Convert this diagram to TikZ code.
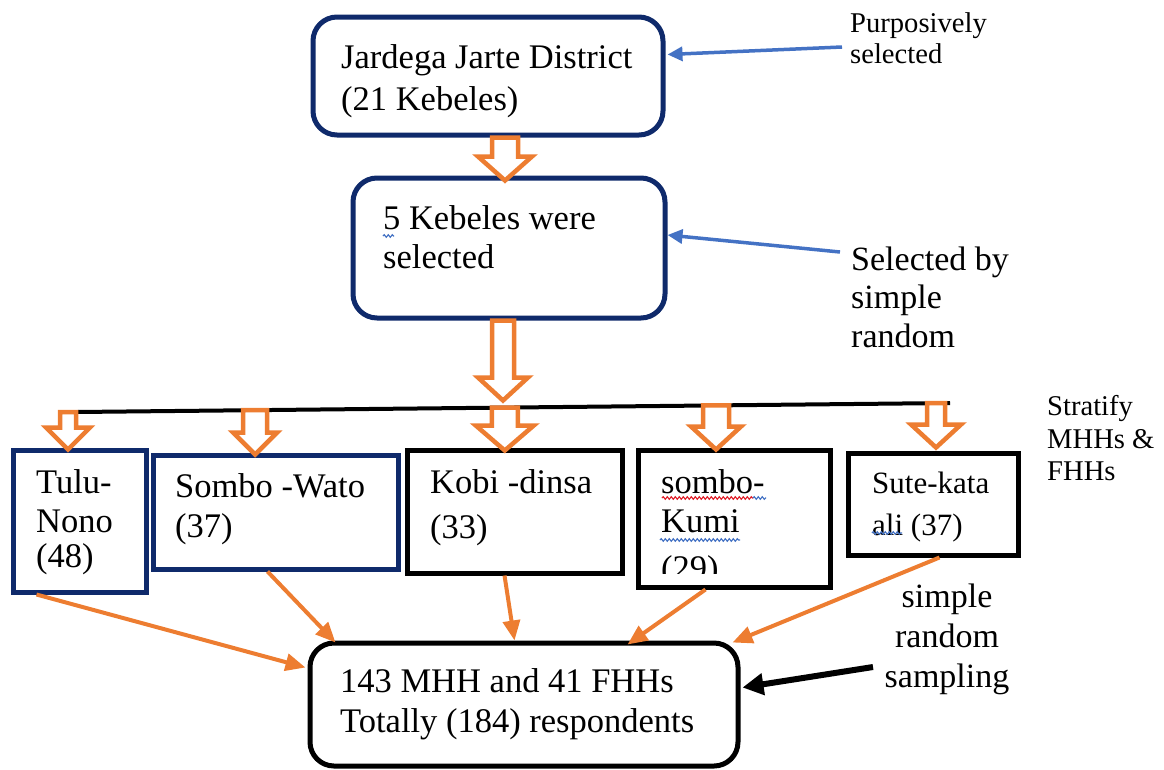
\documentclass[tikz,border=0pt]{standalone}
\usepackage{fontspec}
\setmainfont{Liberation Serif}
\usetikzlibrary{arrows.meta,calc,decorations.pathmorphing}
\definecolor{navy}{HTML}{0F2A6B}
\definecolor{worange}{HTML}{ED7D31}
\definecolor{wblue}{HTML}{4472C4}
\definecolor{wred}{HTML}{E0202A}
\newcommand{\holarrow}[5]{%
  \draw[harrow] let \p1=(#1), \p2=(#2) in
    (\x1-#3,\y1) -- (\x1+#3,\y1) -- (\x1+#3,\y2+#5) -- (\x1+#4,\y2+#5) --
    (\x1,\y2) -- (\x1-#4,\y2+#5) -- (\x1-#3,\y2+#5) -- cycle;}
\tikzset{
  rbox/.style={draw=#1, line width=5pt, rounded corners=24pt, fill=white, inner sep=0pt},
  sbox/.style={draw=#1, line width=5pt, fill=white, inner sep=0pt},
  harrow/.style={draw=worange, line width=4.5pt, fill=white, line join=miter},
  oarr/.style={worange, line width=4pt, -{Triangle[length=20pt,width=17pt]}},
  barr/.style={wblue, line width=3.5pt, -{Triangle[length=15pt,width=14pt]}},
  karr/.style={black, line width=6pt, -{Triangle[length=21pt,width=21pt]}},
  txt/.style={font=\fontsize{34.5}{40}\selectfont, inner sep=0pt, anchor=base west},
  txtm/.style={font=\fontsize{31}{36}\selectfont, inner sep=0pt, anchor=base west},
  txts/.style={font=\fontsize{28.6}{33}\selectfont, inner sep=0pt, anchor=base west},
  txtc/.style={font=\fontsize{34}{40}\selectfont, inner sep=0pt, anchor=base},
  squig/.style={line width=1.1pt, decorate, decoration={snake, amplitude=1.3pt, segment length=4pt}}
}
\begin{document}
\begin{tikzpicture}[x=1pt,y=-1pt]
\useasboundingbox (0,0) rectangle (1164,769);

% main boxes
\node[rbox=navy, minimum width=350pt, minimum height=118pt] (dist) at (488,76) {};
\node[rbox=navy, minimum width=312pt, minimum height=140pt] (sel) at (509,248) {};
\node[sbox=navy, minimum width=133pt, minimum height=142pt] (tulu) at (79.5,521) {};
\node[sbox=navy, minimum width=245pt, minimum height=114pt] (wato) at (275.5,512) {};
\node[sbox=black, minimum width=215pt, minimum height=123pt] (kobi) at (514.5,511.5) {};
\node[sbox=black, minimum width=192pt, minimum height=137pt] (kumi) at (734,518.5) {};
\node[sbox=black, minimum width=170pt, minimum height=102pt] (sute) at (933,504) {};
\node[rbox=black, minimum width=428pt, minimum height=123pt] (total) at (524,704.5) {};

% box texts
\node[txt] (d1) at (341,68) {Jardega Jarte District};
\node[txt] (d2) at (341,110) {(21 Kebeles)};
\node[txt] (s1) at (383,229) {5 Kebeles were};
\node[txt] (s2) at (383,268) {selected};
\node[txt] (tu1) at (36,493) {Tulu-};
\node[txt] (tu2) at (36,532) {Nono};
\node[txt] (tu3) at (36,567) {(48)};
\node[txt] (wa1) at (175,497) {Sombo -Wato};
\node[txt] (wa2) at (175,537) {(37)};
\node[txt] (ko1) at (430,493) {Kobi -dinsa};
\node[txt] (ko2) at (430,538) {(33)};
\node[txt] (ku1) at (661,493) {sombo-};
\node[txt] (ku2) at (661,532) {Kumi};
\begin{scope}
  \clip (640,452) rectangle (828,573);
  \node[txt] (ku3) at (661,579) {(29)};
\end{scope}
\node[txtm] (su1) at (872,493) {Sute-kata};
\node[txtm] (su2) at (872,535) {ali (37)};
\node[txt] (to1) at (340,692) {143 MHH and 41 FHHs};
\node[txt] (to2) at (340,732) {Totally (184) respondents};

% spell-check underlines
\draw[squig, wblue] (383,236) -- (394,236);
\draw[squig, wred] (662,498) -- (753,498);
\draw[squig, wblue] (753,498) -- (766,498);
\draw[squig, wblue] (660,540) -- (740,540);
\draw[squig, wblue] (872,533) -- (902,533);

% side labels
\node[txts] (p1) at (850,32) {Purposively};
\node[txts] (p2) at (850,63) {selected};
\node[txt, font=\fontsize{34}{40}\selectfont] (r1) at (851,270) {Selected by};
\node[txt, font=\fontsize{34}{40}\selectfont] (r2) at (851,308) {simple};
\node[txt, font=\fontsize{34}{40}\selectfont] (r3) at (851,347) {random};
\node[txts] (st1) at (1047,415) {Stratify};
\node[txts] (st2) at (1047,448) {MHHs \&};
\node[txts] (st3) at (1047,480) {FHHs};
\node[txtc] (sr1) at (947,607) {simple};
\node[txtc] (sr2) at (947,647) {random};
\node[txtc] (sr3) at (947,687) {sampling};

% horizontal branch line
\coordinate (L) at (77,412);
\coordinate (R) at (950,403);
\draw[line width=4pt] (L) -- (R);

% hollow arrows
\holarrow{$(dist.south)+(17,0)$}{$(sel.north)+(0,5)$}{13pt}{27pt}{24pt}
\holarrow{$(sel.south)+(-6,0)$}{$(kobi.north)+(0,-47)$}{11pt}{25pt}{23pt}
\holarrow{$(L)+(-9,0)$}{$(tulu.north)+(0,2)$}{8pt}{22pt}{22pt}
\holarrow{$(L)!0.204!(R)$}{$(wato.north)+(0,2)$}{12pt}{22pt}{22pt}
\holarrow{$(L)!0.49!(R)$}{$(kobi.north)+(0,3)$}{13pt}{29pt}{25pt}
\holarrow{$(L)!0.732!(R)$}{$(kumi.north)+(0,2)$}{13pt}{25pt}{23pt}
\holarrow{$(L)!0.984!(R)$}{$(sute.north)+(0,-3)$}{9pt}{25pt}{23pt}

% orange connectors
\draw[oarr] ($(tulu.south west)+(26,0)$) -- ($(total.north west)+(-2,27)$);
\draw[oarr] ($(wato.south west)+(117,0)$) -- ($(total.north west)+(28,2)$);
\draw[oarr] ($(kobi.south west)+(100,0)$) -- ($(total.north west)+(207,0)$);
\draw[oarr] ($(kumi.south west)+(70,0)$) -- ($(total.north west)+(320,4)$);
\draw[oarr] ($(sute.south west)+(94,0)$) -- ($(total.north east)+(-8,2)$);

% blue arrows
\coordinate (pa) at (842,47);
\coordinate (ra) at (840,252);
\draw[barr] (pa) -- ($(dist.north east)+(2,40)$);
\draw[barr] (ra) -- ($(sel.east)+(0,-13)$);

% black arrow
\coordinate (sa) at (873,667);
\draw[karr] (sa) -- ($(total.east)+(2,-17)$);
\end{tikzpicture}
\end{document}
